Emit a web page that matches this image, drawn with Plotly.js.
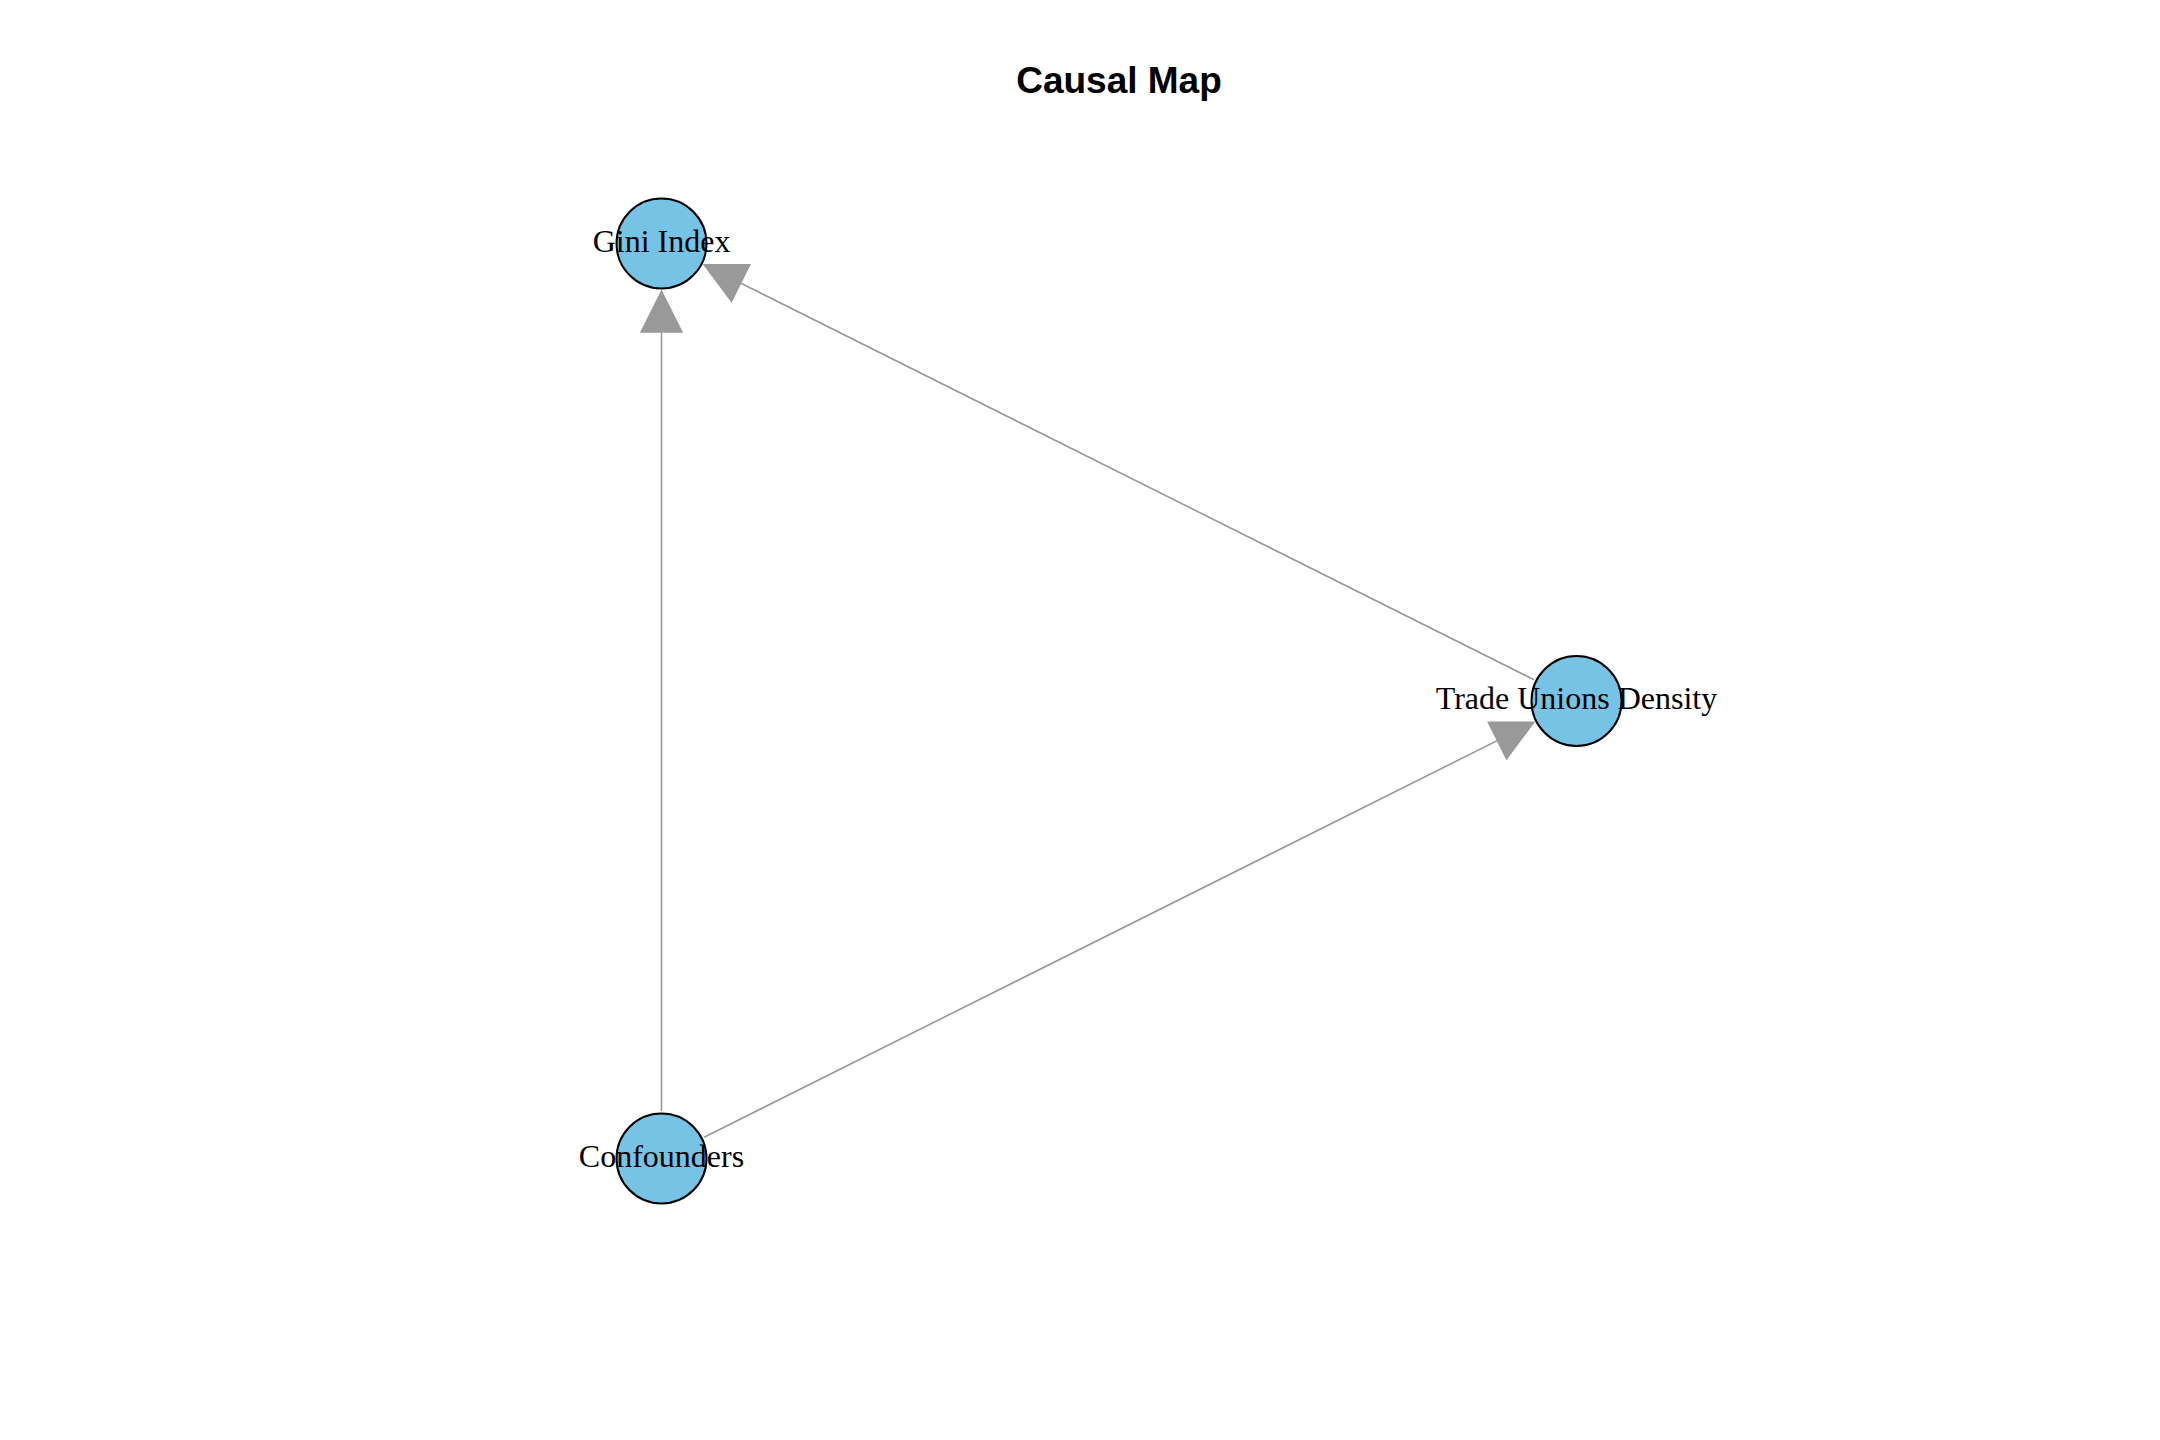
<!DOCTYPE html>
<html>
<head>
<meta charset="utf-8">
<script src="https://cdn.plot.ly/plotly-3.0.1.min.js"></script>
<style>
  html, body { margin: 0; padding: 0; background: #ffffff; }
  #causal { width: 2160px; height: 1440px; }
</style>
</head>
<body>
<div id="causal"></div>
<script>
// graph nodes and their layout coordinates
var nodeNames = ['Gini Index', 'Trade Unions Density', 'Confounders'];
var nodeX = [-1, 1, -1];
var nodeY = [1, 0, -1];

// directed edges (index into nodeNames)
var edgeFrom = [2, 1, 2];
var edgeTo   = [0, 0, 1];

window.addEventListener("DOMContentLoaded", ()=>{
    // edges as arrows between node borders
    var arrows = [];
    for (var i = 0; i < edgeFrom.length; i++) {
        arrows.push({
            x: nodeX[edgeTo[i]], y: nodeY[edgeTo[i]],
            ax: nodeX[edgeFrom[i]], ay: nodeY[edgeFrom[i]],
            xref: 'x', yref: 'y', axref: 'x', ayref: 'y',
            text: '',
            showarrow: true,
            arrowhead: 2,
            arrowsize: 5.4,
            arrowwidth: 1.6,
            arrowcolor: '#999999',
            standoff: 46,
            startstandoff: 46
        });
    }

    var nodes = {
        x: nodeX,
        y: nodeY,
        text: nodeNames,
        mode: 'markers+text',
        type: 'scatter',
        textposition: 'middle center',
        textfont: { family: 'Liberation Serif, Times New Roman, serif', size: 32, color: '#000000' },
        marker: {
            size: 90,
            color: '#77C3E5',
            line: { color: '#000000', width: 2 }
        },
        hoverinfo: 'none',
        cliponaxis: false
    };

    var hidden = {
        range: [-1.2, 1.2],
        showgrid: false, zeroline: false, showticklabels: false,
        showline: false, ticks: '', fixedrange: true
    };

    var layout = {
        width: 2160,
        height: 1440,
        paper_bgcolor: '#ffffff',
        plot_bgcolor: '#ffffff',
        showlegend: false,
        hovermode: false,
        margin: { l: 570, r: 492, t: 152, b: 190 },
        title: {
            text: '<b>Causal Map</b>',
            font: { family: 'Liberation Sans, Arial, sans-serif', size: 37, color: '#000000' },
            x: 0.5, xref: 'paper', xanchor: 'center',
            y: 1 - 80 / 1440, yref: 'container', yanchor: 'middle'
        },
        xaxis: hidden,
        yaxis: Object.assign({}, hidden),
        annotations: arrows
    };

    Plotly.newPlot('causal', [nodes], layout, { staticPlot: true, displayModeBar: false });
});
</script>
</body>
</html>
